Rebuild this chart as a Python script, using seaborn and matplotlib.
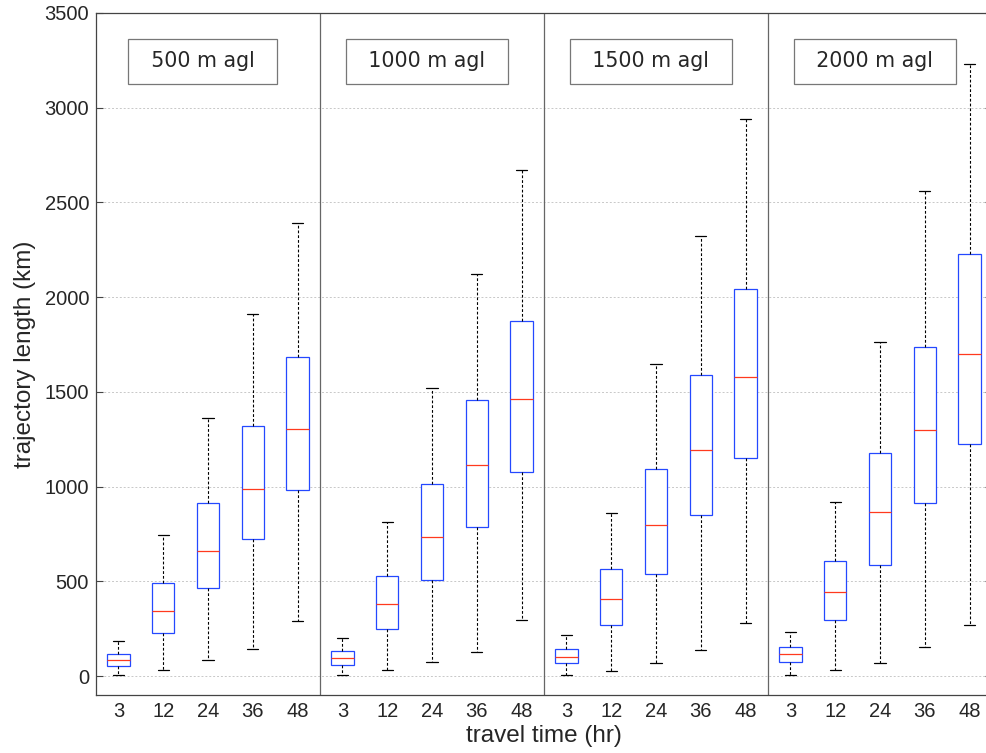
import numpy as np
import pandas as pd
import matplotlib
matplotlib.use("Agg")
import matplotlib.pyplot as plt
import seaborn as sns

# ---- data ----
heights = ["500 m agl", "1000 m agl", "1500 m agl", "2000 m agl"]
travel_times = ["3", "12", "24", "36", "48"]

# per height: lists over travel times
whisker_low = [
    [5, 30, 83, 141, 290],
    [4, 32, 76, 128, 297],
    [5, 28, 69, 137, 281],
    [4, 30, 67, 155, 269],
]
q1 = [
    [51, 229, 466, 723, 980],
    [58, 248, 505, 788, 1079],
    [67, 269, 537, 848, 1149],
    [74, 294, 588, 912, 1226],
]
median = [
    [83, 345, 660, 986, 1306],
    [93, 378, 732, 1116, 1464],
    [102, 406, 799, 1191, 1580],
    [115, 445, 867, 1297, 1698],
]
q3 = [
    [118, 489, 912, 1318, 1682],
    [130, 530, 1014, 1459, 1876],
    [143, 565, 1093, 1587, 2045],
    [155, 605, 1176, 1738, 2229],
]
whisker_high = [
    [183, 744, 1362, 1913, 2391],
    [202, 813, 1520, 2124, 2671],
    [218, 860, 1647, 2324, 2942],
    [232, 917, 1765, 2562, 3231],
]

# Long table: five summary values per box, so that min/Q1/median/Q3/max
# reproduce the box exactly (whiskers span full range).
rows = []
order = []
for h_i, h in enumerate(heights):
    for t_i, t in enumerate(travel_times):
        key = f"{h}|{t}"
        order.append(key)
        for v in (whisker_low[h_i][t_i], q1[h_i][t_i], median[h_i][t_i],
                  q3[h_i][t_i], whisker_high[h_i][t_i]):
            rows.append({"group": key, "length": v})
df = pd.DataFrame(rows)

# ---- plot ----
sns.set_style("white")
plt.rcParams["font.family"] = ["Liberation Sans", "DejaVu Sans"]

fig = plt.figure(figsize=(9.87, 7.53), dpi=100)
ax = fig.add_axes([96 / 987, 58 / 753, 896 / 987, 682 / 753])

lw = 0.9
sns.boxplot(
    data=df, x="group", y="length", order=order, ax=ax,
    whis=np.inf, width=0.5, showfliers=False, linewidth=lw,
    boxprops=dict(facecolor="white", edgecolor="#2448ff", linewidth=lw),
    medianprops=dict(color="#ff3a1e", linewidth=lw),
    whiskerprops=dict(color="black", linestyle=(0, (2.5, 1.8)), linewidth=0.8),
    capprops=dict(color="black", linewidth=lw),
)

n = len(order)
ax.set_xlim(-0.5, n - 0.5)
ax.set_ylim(-100, 3500)
ax.set_yticks(np.arange(0, 3501, 500))
ax.set_xticks(np.arange(n))
ax.set_xticklabels(travel_times * len(heights))

ax.yaxis.grid(True, color="#c8c8c8", linestyle=(0, (2, 2)), linewidth=0.7)
ax.xaxis.grid(False)
ax.set_axisbelow(True)

ax.tick_params(axis="y", direction="in", length=5, width=0.8, color="#444444",
               left=True, right=True, labelsize=14.5, pad=5)
ax.tick_params(axis="x", length=0, labelsize=14.5, pad=5)

for s in ax.spines.values():
    s.set_color("#444444")
    s.set_linewidth(0.9)

# panel separators and labels
n_t = len(travel_times)
for k in range(1, len(heights)):
    ax.axvline(k * n_t - 0.5, color="#666666", linewidth=0.9)
for k, h in enumerate(heights):
    ax.text(k * n_t + (n_t - 1) / 2 - 0.12, 3244, "\u2002" + h + "\u2002",
            ha="center", va="center",
            fontsize=14.8, family="DejaVu Sans",
            bbox=dict(boxstyle="square,pad=0.6", facecolor="white",
                      edgecolor="#777777", linewidth=0.9))

ax.set_xlabel("travel time (hr)", fontsize=17.5, labelpad=3)
ax.set_ylabel("trajectory length (km)", fontsize=17.5, labelpad=6)

fig.savefig("out.png", dpi=100)
